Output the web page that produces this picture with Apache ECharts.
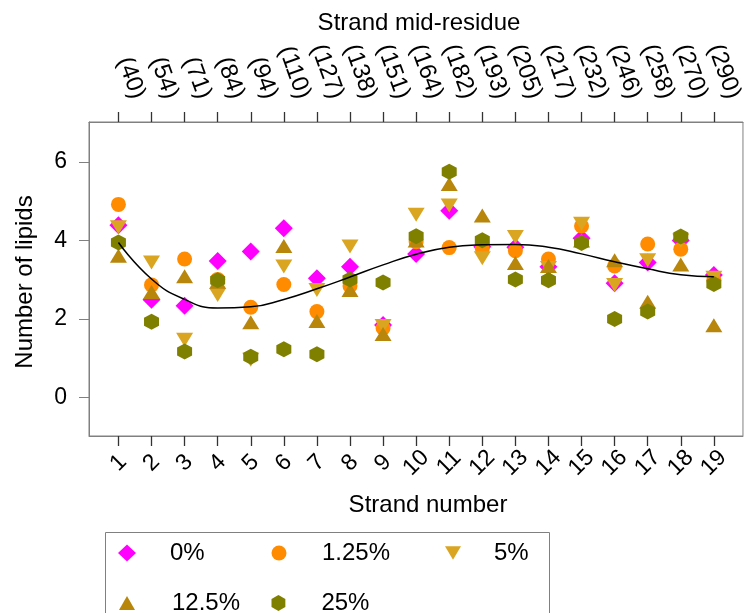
<!DOCTYPE html>
<html>
<head>
<meta charset="utf-8">
<script src="https://cdn.jsdelivr.net/npm/echarts@6/dist/echarts.min.js"></script>
<style>
html,body{margin:0;padding:0;background:#fff;}
#chart{width:746px;height:613px;}
</style>
</head>
<body>
<div id="chart"></div>
<script>
// ---- data ----
var strands = [1,2,3,4,5,6,7,8,9,10,11,12,13,14,15,16,17,18,19];
var midResidues = [40,54,71,84,94,110,127,138,151,164,182,193,205,217,232,246,258,270,290];
var yTicks = [0,2,4,6];
var seriesNames = ['0%','1.25%','5%','12.5%','25%'];
var lipids0 = [4.39,2.49,2.34,3.48,3.72,4.31,3.04,3.33,1.85,3.66,4.76,3.84,3.83,3.33,4.06,2.91,3.44,4.00,3.12];
var lipids125 = [4.92,2.87,3.53,3.01,2.30,2.88,2.19,2.84,1.77,3.97,3.82,3.80,3.74,3.53,4.37,3.35,3.91,3.78,3.00];
var lipids5 = [4.34,3.44,1.47,2.61,0.96,3.34,2.74,3.85,1.82,4.66,4.89,3.55,4.09,3.30,4.43,2.87,3.50,4.00,3.05];
var lipids12_5 = [3.61,2.69,3.09,2.95,1.92,3.86,1.95,2.74,1.62,4.00,5.44,4.64,3.43,3.35,4.00,3.50,2.44,3.39,1.84];
var lipids25 = [3.95,1.93,1.17,2.99,1.04,1.23,1.10,3.01,2.93,4.11,5.75,4.01,3.01,2.99,3.94,2.00,2.19,4.10,2.89];
var fitCurve = [3.95,3.02,2.50,2.28,2.31,2.50,2.77,3.07,3.38,3.65,3.83,3.89,3.90,3.83,3.66,3.46,3.28,3.13,3.08];

function pairs(vals){ return strands.map(function(s,i){ return [s, vals[i]]; }); }

var FONT = 'Liberation Sans, Arial, sans-serif';
var hexPath = 'path://M0,-1 L0.866,-0.5 L0.866,0.5 L0,1 L-0.866,0.5 L-0.866,-0.5 Z';
var downTriPath = 'path://M0,0 L1,0 L0.5,0.85 Z';

var styles = [
  {color:'#FF00FF', symbol:'diamond', size:[18,18], rot:0},
  {color:'#FF8C00', symbol:'circle', size:15, rot:0},
  {color:'#DAA520', symbol:'triangle', size:[17,14], rot:180},
  {color:'#B8860B', symbol:'triangle', size:[17,14], rot:0},
  {color:'#808000', symbol:hexPath, size:[15,16], rot:0}
];
var valueSets = [lipids0, lipids125, lipids5, lipids12_5, lipids25];

var series = seriesNames.map(function(n, i){
  var st = styles[i];
  return {
    name: n, type:'scatter', xAxisIndex:0, yAxisIndex:0,
    symbol: st.symbol, symbolSize: st.size, symbolRotate: st.rot,
    itemStyle:{color: st.color, opacity:1},
    data: pairs(valueSets[i]), z: 2 + i, silent:true
  };
});
series.push({
  name:'fit', type:'line', xAxisIndex:0, yAxisIndex:0, smooth:true, symbol:'none',
  lineStyle:{color:'#000', width:1.5}, data: pairs(fitCurve), z: 10, silent:true
});

var legLayout = [
  [118, 541, 18, 17, 29],
  [271.5, 541, 15, 15, 30.5],
  [445, 541, 16, 14, 28],
  [119, 591, 16, 14, 32],
  [271.5, 591, 15, 16, 30.5]
];
var legends = seriesNames.map(function(n,i){
  var L = legLayout[i];
  var item = (i === 2) ? {name:n, icon:downTriPath} : {name:n};
  return {
    data:[item], left: L[0], top: L[1], padding:0,
    itemWidth:L[2], itemHeight:L[3],
    textStyle:{fontFamily:FONT, fontSize:24, color:'#000', padding:[0,0,0,L[4]]},
    selectedMode:false
  };
});

var xMin = 0.11, xMax = 19.88, labelShift = 0.6;

var chart = echarts.init(document.getElementById('chart'), null, {renderer:'canvas'});
chart.setOption({
  animation:false,
  backgroundColor:'#fff',
  grid:{left:89, top:122, right:1, bottom:177, show:true, borderColor:'#808080', borderWidth:1, containLabel:false},
  legend: legends,
  xAxis:[{
    type:'value', position:'bottom', min:xMin, max:xMax,
    axisLine:{show:true, onZero:false, lineStyle:{color:'#808080', width:1}}, splitLine:{show:false},
    axisTick:{show:true, inside:false, length:10, lineStyle:{color:'#333333', width:1.3}, customValues:strands},
    axisLabel:{show:true, customValues:strands, rotate:45, align:'center', verticalAlign:'middle', margin:27,
      fontFamily:FONT, fontSize:23, color:'#000', formatter:function(v){return String(v);}}
  },{
    type:'value', position:'top', min:xMin, max:xMax,
    axisLine:{show:true, onZero:false, lineStyle:{color:'#808080', width:1}}, splitLine:{show:false},
    axisTick:{show:true, inside:false, length:10, lineStyle:{color:'#333333', width:1.3}, customValues:strands},
    axisLabel:{show:false}
  },{
    type:'value', position:'top', min:xMin - labelShift, max:xMax - labelShift,
    axisLine:{show:false, onZero:false}, splitLine:{show:false}, axisTick:{show:false},
    axisLabel:{show:true, customValues:strands, rotate:70, margin:24,
      fontFamily:FONT, fontSize:24, color:'#000',
      formatter:function(v){ var i = strands.indexOf(Math.round(v)); return '(' + midResidues[i] + ')'; }}
  }],
  yAxis:[{
    type:'value', min:-0.98, max:7.02,
    axisLine:{show:true, onZero:false, lineStyle:{color:'#808080'}}, splitLine:{show:false},
    axisTick:{show:true, inside:false, length:10, lineStyle:{color:'#808080'}, customValues:yTicks},
    axisLabel:{show:true, customValues:yTicks, margin:22, fontFamily:FONT, fontSize:23, color:'#000'}
  }],
  graphic:[
    {type:'text', x:419, y:23, style:{text:'Strand mid-residue', font:'24px ' + FONT, fill:'#000', align:'center', verticalAlign:'middle'}},
    {type:'text', x:428, y:505, style:{text:'Strand number', font:'24px ' + FONT, fill:'#000', align:'center', verticalAlign:'middle'}},
    {type:'text', x:25, y:282, rotation:Math.PI/2, style:{text:'Number of lipids', font:'24px ' + FONT, fill:'#000', align:'center', verticalAlign:'middle'}},
    {type:'rect', shape:{x:105.5, y:532.5, width:444, height:120}, style:{fill:'none', stroke:'#808080', lineWidth:1}}
  ],
  series: series
});
</script>
</body>
</html>
